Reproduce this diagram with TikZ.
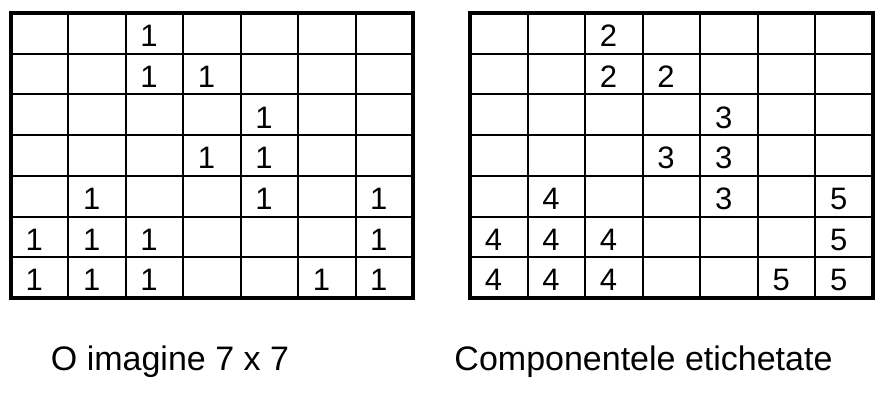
\documentclass[tikz,border=0pt]{standalone}
\usepackage{fontspec}
\setmainfont{Liberation Sans}
\tikzset{cellnum/.style={anchor=base west,inner sep=0pt,font=\fontsize{31}{31}\selectfont},
caption/.style={anchor=base,inner sep=0pt,font=\fontsize{34}{40}\selectfont}}
\begin{document}
\begin{tikzpicture}[x=1pt,y=-1pt]
\useasboundingbox (0,0) rectangle (884,400);
% imaginea 7 x 7
\foreach \i in {1,...,6}{\draw[line width=2pt](11+\i*57.43,13)--(11+\i*57.43,298);\draw[line width=2pt](11,13+\i*40.71)--(413,13+\i*40.71);}
\draw[line width=4pt](11,13) rectangle (413,298);
\foreach \r/\c in {1/3,2/3,2/4,3/5,4/4,4/5,5/2,5/5,5/7,6/1,6/2,6/3,6/7,7/1,7/2,7/3,7/6,7/7}
  \node[cellnum] (a\r\c) at (11+\c*57.43-43,13+\r*40.71-7){1};
% componentele etichetate
\foreach \i in {1,...,6}{\draw[line width=2pt](470+\i*57.57,13)--(470+\i*57.57,298);\draw[line width=2pt](470,13+\i*40.71)--(873,13+\i*40.71);}
\draw[line width=4pt](470,13) rectangle (873,298);
\foreach \r/\c/\v in {1/3/2,2/3/2,2/4/2,3/5/3,4/4/3,4/5/3,5/2/4,5/5/3,5/7/5,6/1/4,6/2/4,6/3/4,6/7/5,7/1/4,7/2/4,7/3/4,7/6/5,7/7/5}
  \node[cellnum] (b\r\c) at (470+\c*57.57-43,13+\r*40.71-7){\v};
\node[caption] (capA) at (170,370){O imagine 7 x 7};
\node[caption] (capB) at (643.5,370){Componentele etichetate};
\end{tikzpicture}
\end{document}
